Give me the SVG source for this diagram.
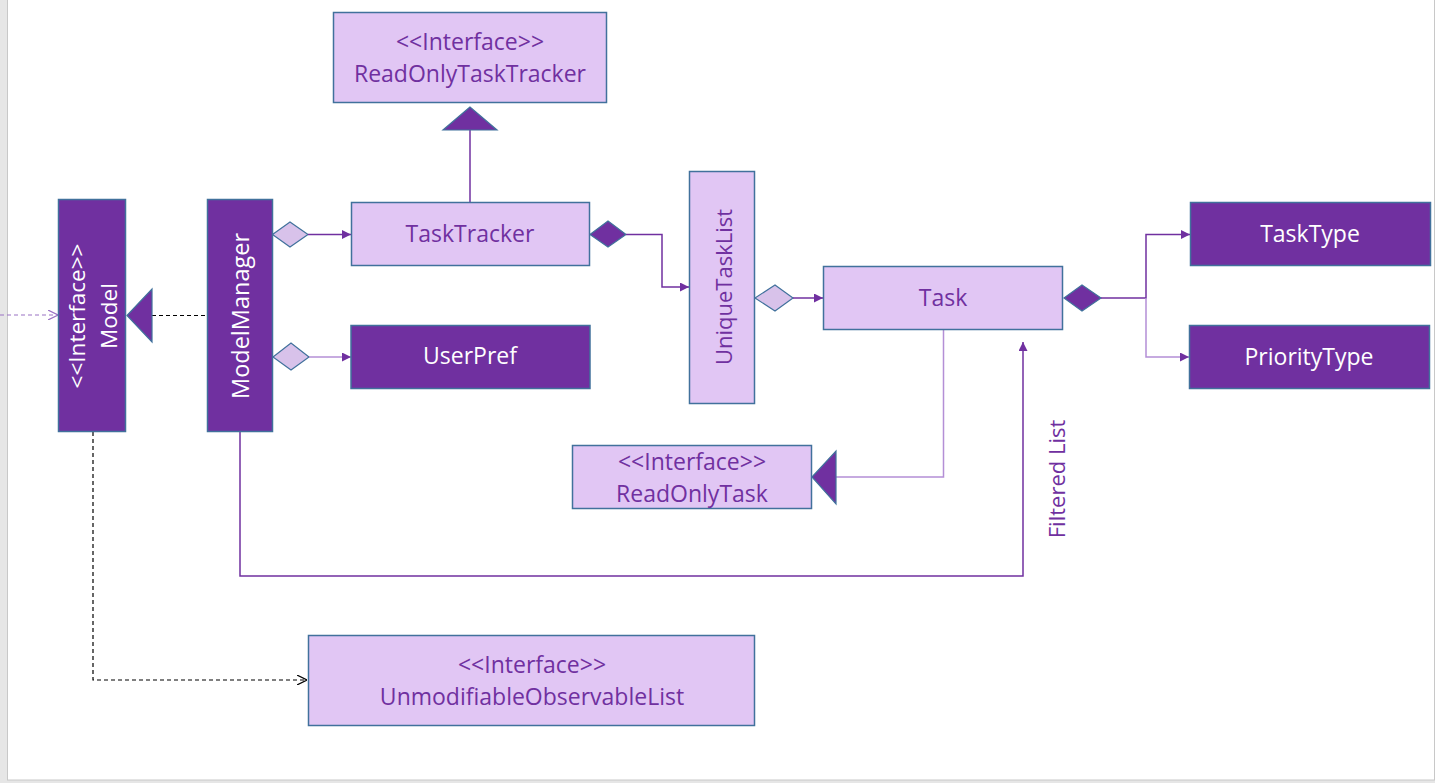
<svg xmlns="http://www.w3.org/2000/svg" width="1435" height="783" viewBox="0 0 1435 783">
<style>
.dark{fill:#7030a0;stroke:#41719c;stroke-width:1.5}
.light{fill:#e1c6f4;stroke:#41719c;stroke-width:1.5}
.tw{font-family:"Open Sans","Liberation Sans",Arial,sans-serif;font-size:23px;fill:#ffffff;text-anchor:middle}
.tp{font-family:"Open Sans","Liberation Sans",Arial,sans-serif;font-size:23px;fill:#7030a0;text-anchor:middle}
.ln{fill:none;stroke:#7030a0;stroke-width:1.5}
.lnl{fill:none;stroke:#b48fd6;stroke-width:1.5}
.dia-l{fill:#d8c2ea;stroke:#41719c;stroke-width:1.2}
.dia-d{fill:#7030a0;stroke:#41719c;stroke-width:1.2}
.tri{fill:#7030a0;stroke:#41719c;stroke-width:1.2}
</style>
<defs>
<marker id="arr" viewBox="0 0 10 10" refX="10" refY="5" markerWidth="9" markerHeight="9" markerUnits="userSpaceOnUse" orient="auto">
<path d="M0,0 L10,5 L0,10 z" fill="#7030a0"/>
</marker>
<marker id="open" viewBox="0 0 10 10" refX="10" refY="5" markerWidth="10" markerHeight="10" markerUnits="userSpaceOnUse" orient="auto">
<path d="M0,0 L10,5 L0,10" fill="none" stroke="#000" stroke-width="1.2"/>
</marker>
<marker id="openp" viewBox="0 0 10 10" refX="10" refY="5" markerWidth="10" markerHeight="10" markerUnits="userSpaceOnUse" orient="auto">
<path d="M0,0 L10,5 L0,10" fill="none" stroke="#9a72c4" stroke-width="1.2"/>
</marker>
</defs>
<rect x="0" y="0" width="1435" height="783" fill="#e6e6e6"/>
<rect x="7.5" y="-1" width="1427" height="781" fill="#ffffff" stroke="#c8c8c8" stroke-width="1"/>

<g id="connectors">
<line x1="0" y1="315" x2="58" y2="315" stroke="#9a72c4" stroke-width="1.2" stroke-dasharray="4,3" marker-end="url(#openp)"/>
<line x1="152" y1="315.5" x2="207" y2="315.5" stroke="#000" stroke-width="1.2" stroke-dasharray="4,3"/>
<polygon class="tri" points="127,315.5 152,289 152,342"/>
<polyline points="93,432 93,680 307,680" fill="none" stroke="#000" stroke-width="1.2" stroke-dasharray="4,3" marker-end="url(#open)"/>
<polygon class="dia-l" points="272.5,234.5 290,222 308,234.5 290,247"/>
<line class="ln" x1="308" y1="234.5" x2="351" y2="234.5" marker-end="url(#arr)"/>
<polygon class="dia-l" points="273,357 291,343 309,357 291,370"/>
<line class="lnl" x1="309" y1="357" x2="351" y2="357" stroke="#8a5cbd" marker-end="url(#arr)"/>
<line class="ln" x1="470" y1="130" x2="470" y2="202"/>
<polygon class="tri" points="470,107 443,130 497,130"/>
<polygon class="dia-d" points="590,234.5 608,221 626,234.5 608,247"/>
<polyline class="ln" points="626,234.5 662,234.5 662,287 689,287" marker-end="url(#arr)"/>
<polygon class="dia-l" points="755,298 775,285 793,298 775,311"/>
<line class="ln" x1="793" y1="298" x2="823" y2="298" marker-end="url(#arr)"/>
<polygon class="dia-d" points="1064,298 1082,285 1101,298 1082,311"/>
<polyline class="ln" points="1101,298 1146,298 1146,234.5 1190,234.5" marker-end="url(#arr)"/>
<polyline class="lnl" points="1146,298 1146,357 1189,357" marker-end="url(#arr)"/>
<polyline class="lnl" points="943.5,330 943.5,477 836,477"/>
<polygon class="tri" points="812,477 836,451 836,504"/>
<polyline class="ln" points="240,432 240,576 1023,576 1023,342" marker-end="url(#arr)"/>
<text class="tp" style="font-size:22px" transform="translate(1065,479) rotate(-90)">Filtered List</text>
</g>

<g id="model">
<rect class="dark" x="58.5" y="199.5" width="67" height="232"/>
<text class="tw" style="font-size:22.5px" transform="translate(85,316) rotate(-90)">&lt;&lt;Interface&gt;&gt;</text>
<text class="tw" style="font-size:22.5px" transform="translate(117,316) rotate(-90)">Model</text>
</g>
<g id="modelmanager">
<rect class="dark" x="207.5" y="199.5" width="65" height="232"/>
<text class="tw" style="font-size:23.5px" transform="translate(249,316) rotate(-90)">ModelManager</text>
</g>
<g id="readonlytasktracker">
<rect class="light" x="333.5" y="12.5" width="273" height="90"/>
<text class="tp" x="470" y="50">&lt;&lt;Interface&gt;&gt;</text>
<text class="tp" x="470" y="82">ReadOnlyTaskTracker</text>
</g>
<g id="tasktracker">
<rect class="light" x="351.5" y="202.5" width="238" height="63"/>
<text class="tp" x="470" y="242">TaskTracker</text>
</g>
<g id="userpref">
<rect class="dark" x="351" y="325.5" width="239" height="63"/>
<text class="tw" x="470" y="364">UserPref</text>
</g>
<g id="uniquetasklist">
<rect class="light" x="689.5" y="171.5" width="65" height="232"/>
<text class="tp" style="font-size:22px" transform="translate(732,287) rotate(-90)">UniqueTaskList</text>
</g>
<g id="task">
<rect class="light" x="823.5" y="266.5" width="239" height="63"/>
<text class="tp" x="943" y="306">Task</text>
</g>
<g id="tasktype">
<rect class="dark" x="1190.5" y="202.5" width="240" height="63"/>
<text class="tw" x="1310" y="242">TaskType</text>
</g>
<g id="prioritytype">
<rect class="dark" x="1189.5" y="325.5" width="240" height="63"/>
<text class="tw" x="1309" y="365">PriorityType</text>
</g>
<g id="readonlytask">
<rect class="light" x="572.5" y="445.5" width="239" height="63"/>
<text class="tp" x="692" y="470">&lt;&lt;Interface&gt;&gt;</text>
<text class="tp" x="692" y="502">ReadOnlyTask</text>
</g>
<g id="unmodifiableobservablelist">
<rect class="light" x="308.5" y="635.5" width="446" height="90"/>
<text class="tp" x="532" y="673">&lt;&lt;Interface&gt;&gt;</text>
<text class="tp" x="532" y="705">UnmodifiableObservableList</text>
</g>
</svg>
